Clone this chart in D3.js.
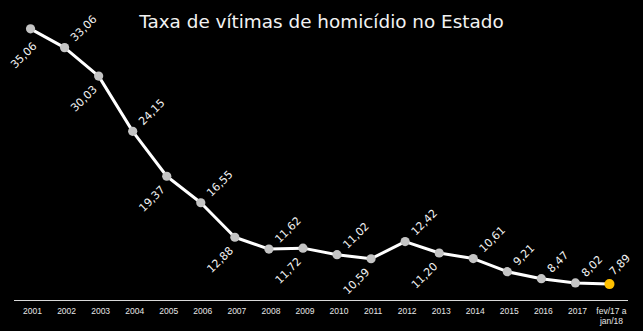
<!DOCTYPE html>
<html>
<head>
<meta charset="utf-8">
<script src="https://cdn.jsdelivr.net/npm/d3@7"></script>
<style>
  html, body { margin: 0; padding: 0; background: #000; }
  svg { display: block; }
</style>
</head>
<body>
<svg id="chart" width="643" height="331"></svg>
<script>
const categories = ["2001","2002","2003","2004","2005","2006","2007","2008","2009","2010","2011","2012","2013","2014","2015","2016","2017","fev/17 a|jan/18"];
const values = [35.06,33.06,30.03,24.15,19.37,16.55,12.88,11.62,11.72,11.02,10.59,12.42,11.20,10.61,9.21,8.47,8.02,7.89];
const labelPos = ["below","above","below","above","below","above","below","above","below","above","below","above","below","above","above","above","above","above"];
const title = "Taxa de vítimas de homicídio no Estado";

const W = 643, H = 331;
const svg = d3.select("#chart");
svg.append("rect").attr("width", W).attr("height", H).attr("fill", "#000");

const x = d3.scalePoint().domain(categories).range([13.5, 626.5]).padding(0.5);
const y = d3.scaleLinear().domain([6.2, 36]).range([300, 20]);

// title
svg.append("text")
  .attr("x", 321.5).attr("y", 28)
  .attr("text-anchor", "middle")
  .attr("font-family", "DejaVu Sans")
  .attr("font-size", 18.4)
  .attr("fill", "#f2f2f2")
  .text(title);

// x axis
const axis = d3.axisBottom(x).tickSize(0).tickPadding(0).tickFormat(() => "");
const gx = svg.append("g").attr("transform", "translate(0,300)").call(axis);
gx.select(".domain").attr("stroke", "#d9d9d9").attr("stroke-width", 1.2)
  .attr("d", "M14,0.5H628");
gx.selectAll(".tick").each(function(d) {
  const t = d3.select(this).append("text")
    .attr("x", 1.5).attr("y", 14)
    .attr("text-anchor", "middle")
    .attr("font-family", "Liberation Sans")
    .attr("font-size", 8.5)
    .attr("fill", "#e6e6e6");
  const parts = d.split("|");
  parts.forEach((p, i) => {
    t.append("tspan").attr("x", 1.5).attr("dy", i === 0 ? 0 : 10).text(p);
  });
});

// line
const line = d3.line().x((d, i) => x(categories[i])).y(d => y(d));
svg.append("path")
  .datum(values)
  .attr("d", line)
  .attr("fill", "none")
  .attr("stroke", "#ffffff")
  .attr("stroke-width", 3)
  .attr("stroke-linejoin", "round");

// markers
svg.selectAll("circle.pt")
  .data(values)
  .join("circle")
  .attr("class", "pt")
  .attr("cx", (d, i) => x(categories[i]))
  .attr("cy", d => y(d))
  .attr("r", (d, i) => i === values.length - 1 ? 5 : 4.6)
  .attr("fill", (d, i) => i === values.length - 1 ? "#ffc000" : "#c4c4c4");

// data labels
const fmt = v => v.toFixed(2).replace(".", ",");
const k = Math.SQRT1_2;
const labels = svg.append("g");
values.forEach((v, i) => {
  const px = x(categories[i]), py = y(v);
  const above = labelPos[i] === "above";
  const t = labels.append("text")
    .attr("font-family", "DejaVu Sans")
    .attr("font-size", 11)
    .attr("fill", "#f2f2f2")
    .attr("text-anchor", above ? "start" : "end")
    .text(fmt(v));
  const L = t.node().getComputedTextLength();
  const h = 8;
  let ax, ay;
  if (above) {
    ax = px + 10.5; ay = py - 5.5;
    const right = ax + L * k;
    if (right > 631) { const d = right - 631; ax -= d; ay -= d * 0.4; }
  } else {
    ax = px - 1; ay = py + 14;
    const left = ax - (L + h) * k;
    if (left < 9.5) { const d = 9.5 - left; ax += d; ay += d * 0.5; }
  }
  t.attr("transform", `translate(${ax},${ay}) rotate(-45)`);
});
</script>
</body>
</html>
